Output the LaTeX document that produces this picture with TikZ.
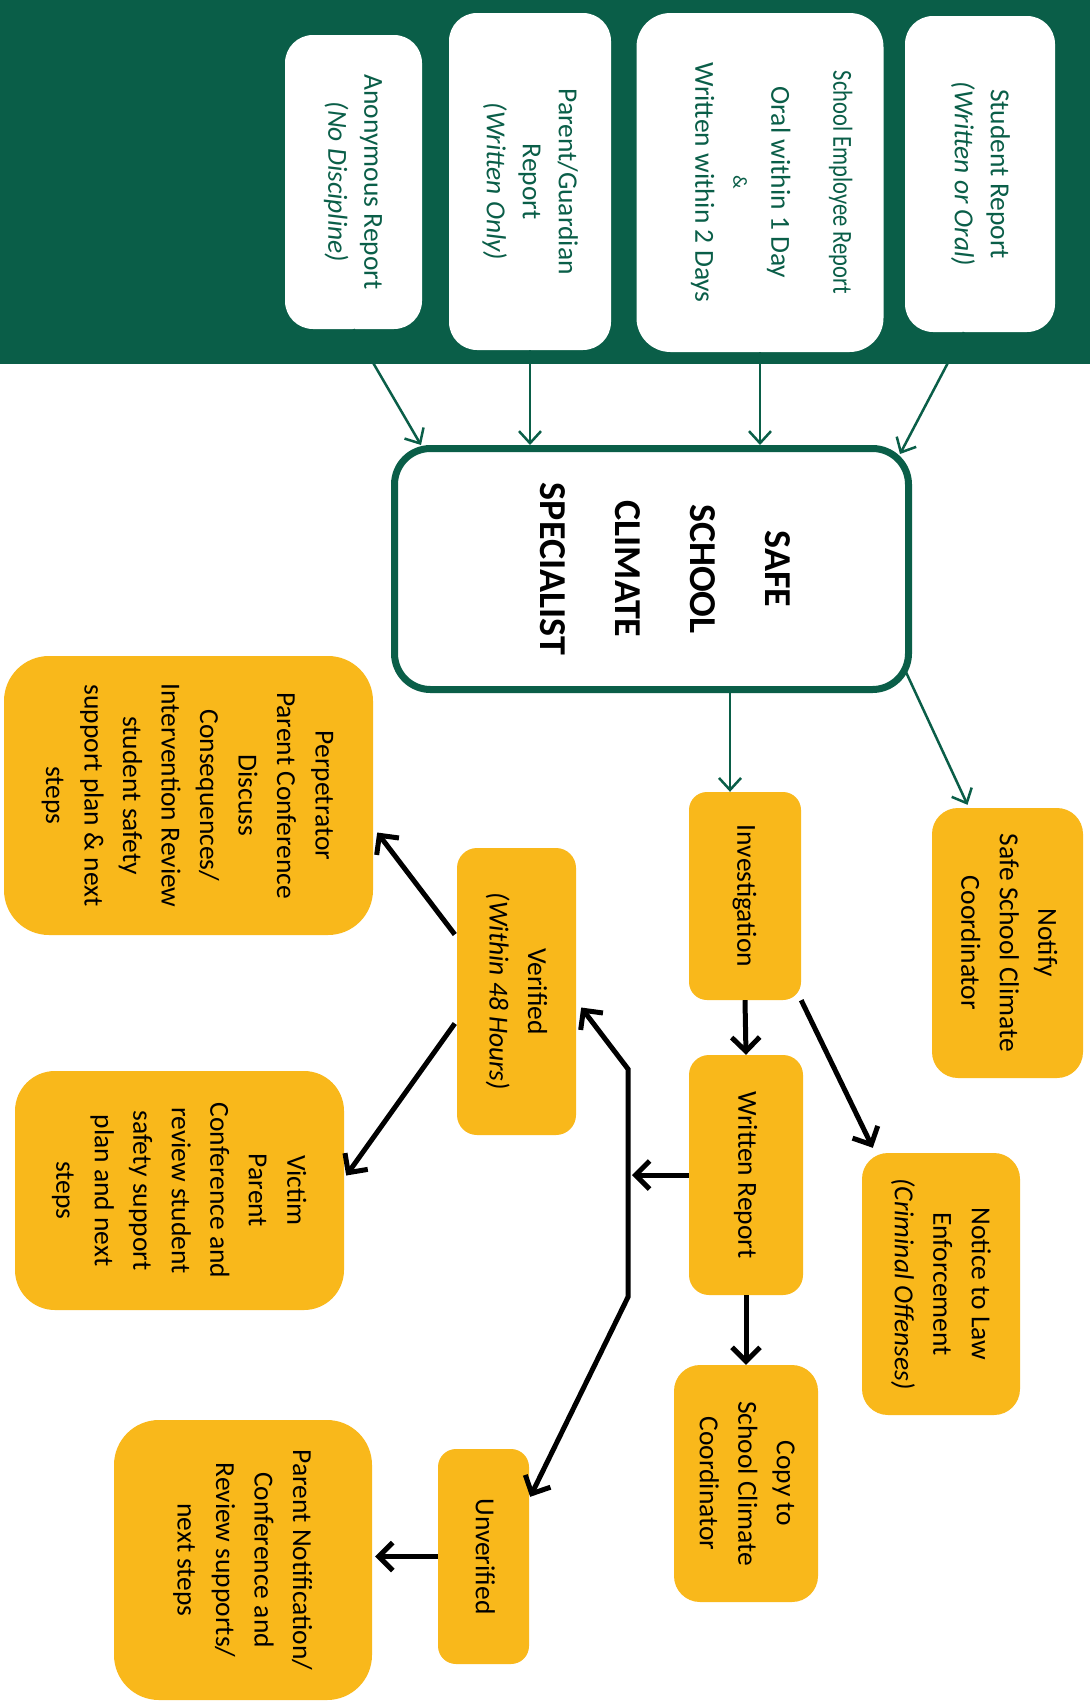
\documentclass[tikz,border=0pt]{standalone}
\usepackage{fontspec}
\usepackage{graphicx}
\setmainfont{Carlito}
\usetikzlibrary{arrows.meta,calc,shadows}
\definecolor{sgreen}{RGB}{10,94,72}
\definecolor{sorange}{RGB}{249,184,27}
\newcommand{\vt}[1]{\rotatebox{-90}{\begin{tabular}{@{}c@{}}#1\end{tabular}}}
\begin{document}
\begin{tikzpicture}[x=1pt,y=-1pt,
  wbox/.style={fill=white,draw=none,rounded corners=28pt,inner sep=0pt,text=sgreen,
    font=\fontsize{27.5}{36}\selectfont},
  obox/.style={fill=sorange,draw=none,rounded corners=20pt,inner sep=0pt,text=black,
    font=\fontsize{27.5}{38.5}\selectfont},
  garrow/.style={draw=sgreen,line width=2.5pt,-{Straight Barb[length=12pt,width=22pt]}},
  barrow/.style={draw=black,line width=5pt,-{Straight Barb[length=14pt,width=28pt]}},
  spine/.style={draw=black,line width=5pt,{Straight Barb[length=14pt,width=28pt]}-{Straight Barb[length=14pt,width=28pt]}}
]
\useasboundingbox (0,0) rectangle (1090,1705);
\fill[white] (0,0) rectangle (1090,1705);
\fill[sgreen] (0,0) rectangle (1090,364);

% report boxes
\node[wbox,minimum width=150pt,minimum height=316pt] (student) at (980,174)
  {\vt{Student Report\\ \textit{(Written or Oral)}}};
\node[wbox,rounded corners=34pt,minimum width=247pt,minimum height=339pt] (employee) at (760,182.5)
  {\hspace{23pt}\vt{\scalebox{0.82}[1]{School Employee Report}\\[26pt]
       Oral within 1 Day\\[2pt]
       {\fontsize{20}{24}\selectfont \&}\\[2pt]
       Written within 2 Days}};
\node[wbox,minimum width=162pt,minimum height=337pt] (parent) at (530,181.5)
  {\vt{Parent/Guardian\\ Report\\ \textit{(Written Only)}}};
\node[wbox,minimum width=137pt,minimum height=294pt] (anon) at (353.5,182)
  {\vt{Anonymous Report\\ \textit{(No Discipline)}}};

% specialist
\node[draw=sgreen,line width=7pt,fill=white,rounded corners=36pt,inner sep=0pt,
  minimum width=514pt,minimum height=241pt,
  drop shadow={shadow xshift=-2pt,shadow yshift=-3pt,opacity=0.3},
  font=\fontsize{38}{75}\selectfont\bfseries] (sscs) at (651.5,569)
  {\hspace{32pt}\vt{SAFE\\SCHOOL\\CLIMATE\\SPECIALIST}};

% orange boxes
\node[obox,rounded corners=26pt,minimum width=151pt,minimum height=270pt] (notify) at (1007.5,943)
  {\vt{Notify\\Safe School Climate\\Coordinator}};
\node[obox,rounded corners=18pt,minimum width=112pt,minimum height=208pt] (inv) at (745,896)
  {\vt{Investigation}};
\node[obox,minimum width=114pt,minimum height=240pt] (written) at (746,1175)
  {\vt{Written Report}};
\node[obox,rounded corners=26pt,minimum width=158pt,minimum height=262pt] (notice) at (941,1284)
  {\vt{Notice to Law\\Enforcement\\\textit{(Criminal Offenses)}}};
\node[obox,rounded corners=26pt,minimum width=144pt,minimum height=237pt] (copy) at (746,1483.5)
  {\vt{Copy to\\School Climate\\Coordinator}};
\node[obox,minimum width=119pt,minimum height=287pt] (verified) at (516.5,991.5)
  {\vt{Verified\\\textit{(Within 48 Hours)}}};
\node[obox,rounded corners=45pt,minimum width=369pt,minimum height=279pt] (perp) at (188.5,795.5)
  {\vt{Perpetrator\\Parent Conference\\Discuss\\Consequences/\\Intervention Review\\student safety\\support plan \& next\\steps}};
\node[obox,rounded corners=40pt,minimum width=329pt,minimum height=239pt] (victim) at (179.5,1190.5)
  {\vt{Victim\\Parent\\Conference and\\review student\\safety support\\plan and next\\steps}};
\node[obox,rounded corners=18pt,minimum width=91pt,minimum height=215pt] (unver) at (483.5,1556.5)
  {\vt{Unverified}};
\node[obox,rounded corners=45pt,minimum width=258pt,minimum height=280pt] (pnote) at (243,1560)
  {\vt{Parent Notification/\\Conference and\\Review supports/\\next steps}};

% green connectors
\draw[garrow] (anon.south) -- ($(sscs.north west)+(30,0)$);
\draw[garrow] (parent.south) -- (parent.south |- sscs.north);
\draw[garrow] (employee.south) -- (employee.south |- sscs.north);
\draw[garrow] ([xshift=-16pt]student.south) -- ($(sscs.north east)+(-12,9)$);
\coordinate (invtop) at ([xshift=-15pt]inv.north);
\draw[garrow] (invtop |- sscs.south) -- (invtop);
\draw[garrow] ($(sscs.south east)+(-7,-23)$) -- ($(notify.north)+(-40,-3)$);

% black connectors
\coordinate (spt) at (628,1069);
\coordinate (spb) at (628,1297);
\draw[barrow] (inv.south) -- (written.north);
\draw[barrow] (inv.south east) -- ($(notice.north west)+(11,-5)$);
\draw[barrow] (written.south) -- (copy.north);
\draw[barrow] (written.west) -- ($(written.west -| spt)+(4,0)$);
\draw[spine] ($(verified.east)+(5,16)$) -- (spt) -- (spb) -- ($(unver.north east)+(1,48)$);
\draw[barrow] ($(verified.west)+(-2,-57)$) -- ($(perp.east)+(4,37)$);
\draw[barrow] ($(verified.west)+(-2,32)$) -- ($(victim.east)+(2,-15)$);
\draw[barrow] (unver.west) -- ($(unver.west -| pnote.east)+(3,0)$);
\end{tikzpicture}
\end{document}
